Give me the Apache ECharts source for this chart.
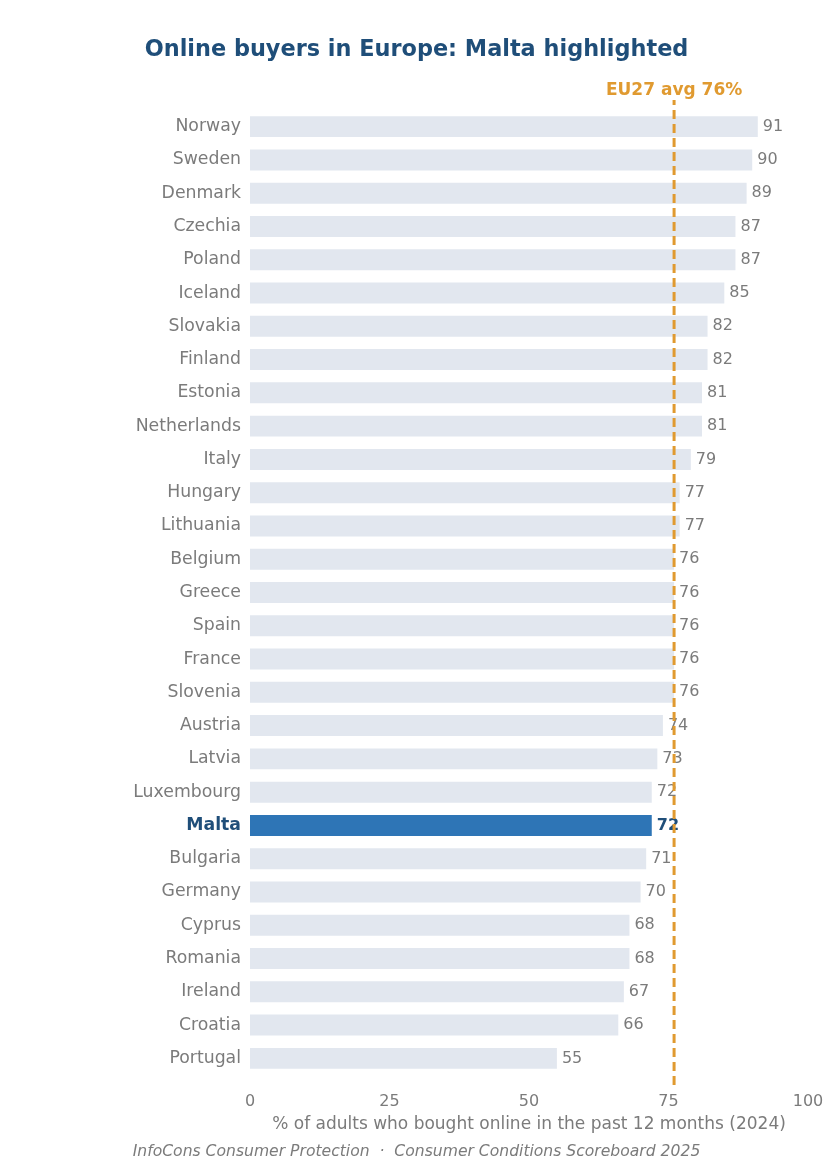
<!DOCTYPE html>
<html>
<head>
<meta charset="utf-8">
<script src="https://cdn.jsdelivr.net/npm/echarts@6/dist/echarts.min.js"></script>
<style>
  html, body { margin: 0; padding: 0; background: #fff; }
  #chart { width: 833px; height: 1173px; }
</style>
</head>
<body>
<div id="chart"></div>
<script>
// countries, top to bottom
var countries = ['Norway', 'Sweden', 'Denmark', 'Czechia', 'Poland', 'Iceland', 'Slovakia',
  'Finland', 'Estonia', 'Netherlands', 'Italy', 'Hungary', 'Lithuania', 'Belgium', 'Greece',
  'Spain', 'France', 'Slovenia', 'Austria', 'Latvia', 'Luxembourg', 'Malta', 'Bulgaria',
  'Germany', 'Cyprus', 'Romania', 'Ireland', 'Croatia', 'Portugal'];
// % of adults who bought online in the past 12 months (2024)
var shares = [91, 90, 89, 87, 87, 85, 82, 82, 81, 81, 79, 77, 77, 76, 76, 76, 76, 76,
  74, 73, 72, 72, 71, 70, 68, 68, 67, 66, 55];
var xTicks = [0, 25, 50, 75, 100];
var euAvg = 76;
var highlight = 'Malta';

var FONT = 'DejaVu Sans';
var GREY = '#7b7b7b';
var DARK = '#1f4e79';
var ORANGE = '#e09a30';

var barData = countries.map(function (c, i) {
  if (c === highlight) {
    return {
      value: shares[i],
      itemStyle: { color: '#2e75b6' },
      label: { color: DARK, fontWeight: 'bold' }
    };
  }
  return shares[i];
});

var chart = echarts.init(document.getElementById('chart'));
chart.setOption({
  backgroundColor: '#fff',
  animation: false,
  title: [{
    text: 'Online buyers in Europe: Malta highlighted',
    left: 'center',
    top: 34,
    textStyle: { fontFamily: FONT, fontSize: 22.4, fontWeight: 'bold', color: DARK }
  }, {
    text: 'InfoCons Consumer Protection  \u00b7  Consumer Conditions Scoreboard 2025',
    left: 'center',
    top: 1139,
    textStyle: { fontFamily: FONT, fontSize: 15.6, fontStyle: 'italic', fontWeight: 'normal', color: GREY }
  }],
  grid: [
    { left: 250, right: 25, top: 110, bottom: 98, containLabel: false },
    { left: 250, right: 25, top: 100, bottom: 88, containLabel: false }
  ],
  xAxis: [{
    type: 'value',
    gridIndex: 0,
    min: 0,
    max: 100,
    interval: 25,
    axisLine: { show: false },
    axisTick: { show: false },
    splitLine: { show: false },
    axisLabel: {
      fontFamily: FONT, fontSize: 16, color: GREY, margin: 19,
      formatter: function (v) { return xTicks.indexOf(v) >= 0 ? String(v) : ''; }
    },
    name: '% of adults who bought online in the past 12 months (2024)',
    nameLocation: 'middle',
    nameGap: 41,
    nameTextStyle: { fontFamily: FONT, fontSize: 17, color: GREY }
  }, {
    type: 'value',
    gridIndex: 1,
    min: 0,
    max: 100,
    show: false
  }],
  yAxis: [{
    type: 'category',
    gridIndex: 0,
    data: countries,
    inverse: true,
    axisLine: { show: false },
    axisTick: { show: false },
    splitLine: { show: false },
    axisLabel: {
      fontFamily: FONT,
      fontSize: 17.3,
      color: GREY,
      margin: 9,
      formatter: function (v) { return v === highlight ? '{hl|' + v + '}' : v; },
      rich: { hl: { fontFamily: FONT, fontSize: 17.3, fontWeight: 'bold', color: DARK } }
    }
  }, {
    type: 'value',
    gridIndex: 1,
    min: 0,
    max: 1,
    show: false
  }],
  series: [{
    type: 'bar',
    xAxisIndex: 0,
    yAxisIndex: 0,
    data: barData,
    barWidth: '63%',
    itemStyle: { color: '#e2e7ef' },
    label: {
      show: true,
      position: 'right',
      distance: 5,
      fontFamily: FONT,
      fontSize: 16,
      color: GREY
    },
    z: 2
  }, {
    // EU27 average reference line
    type: 'line',
    xAxisIndex: 1,
    yAxisIndex: 1,
    clip: false,
    data: [
      [euAvg, 0],
      {
        value: [euAvg, 1],
        label: {
          show: true,
          position: 'top',
          distance: 1,
          formatter: 'EU27 avg ' + euAvg + '%',
          fontFamily: FONT,
          fontSize: 17,
          fontWeight: 'bold',
          color: ORANGE
        }
      }
    ],
    symbol: 'circle',
    symbolSize: 0,
    showSymbol: true,
    itemStyle: { color: ORANGE },
    lineStyle: { color: ORANGE, width: 3, type: [9, 5] },
    silent: true,
    z: 5
  }]
});
</script>
</body>
</html>
